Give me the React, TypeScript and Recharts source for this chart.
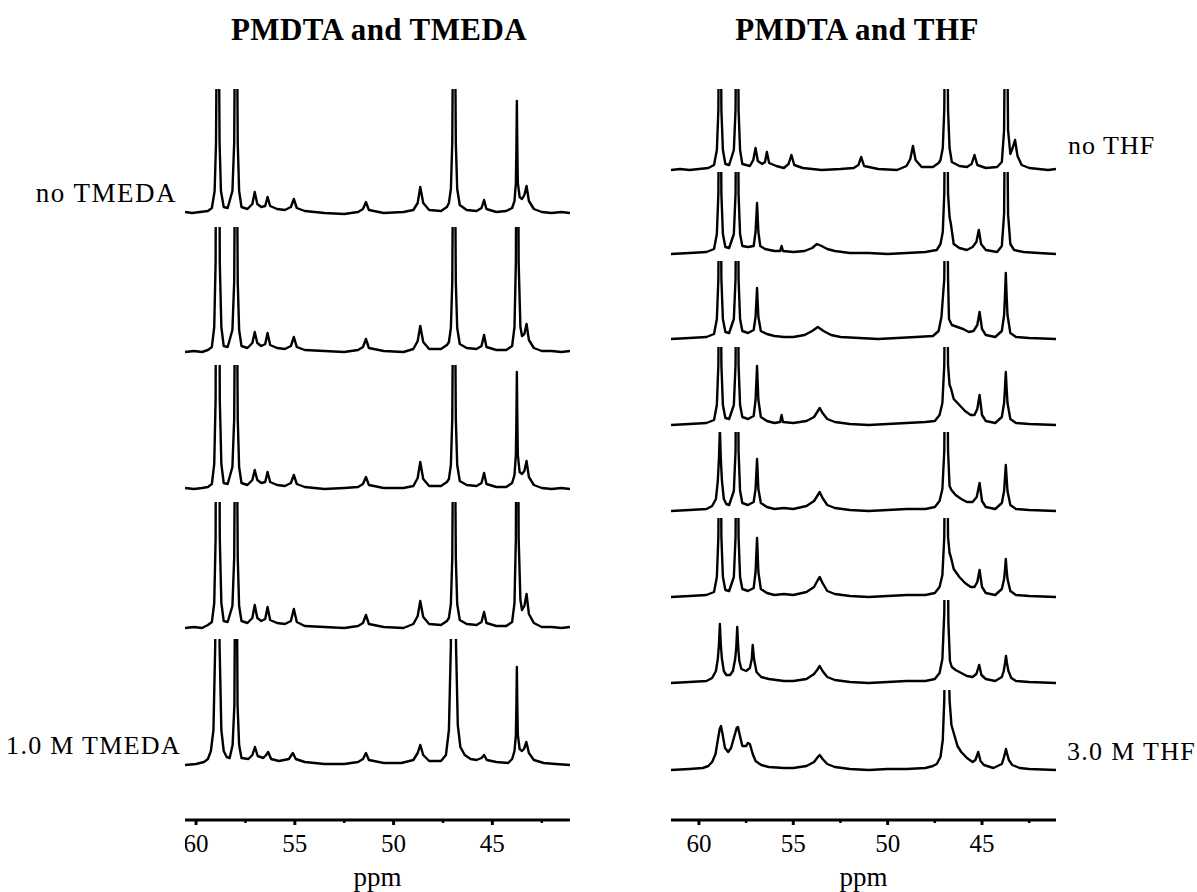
import React from "react";
import { LineChart, Line, XAxis, YAxis, Label } from "recharts";

type Pt = [number, number];

const ppmTicks = [60, 57.5, 55, 52.5, 50, 47.5, 45, 42.5];
const tickLabels = [60, 55, 50, 45];

const titles = ["PMDTA and TMEDA", "PMDTA and THF"];
const tmedaLabels = ["no TMEDA", "1.0 M TMEDA"];
const thfLabels = ["no THF", "3.0 M THF"];

// [ppm, intensity]; intensity is height above the trace's own baseline

const tmeda0: Pt[] = [
  [60.56, 1], [60.2, 0], [59.8, 1], [59.4, 2],
  [59.2, 5], [59.06, 22], [58.99, 70], [58.94, 220], [58.9, 500], [58.86, 220], [58.81, 70], [58.74, 22], [58.6, 6],
  [58.4, 5], [58.16, 22], [58.07, 70], [58.02, 220], [57.98, 500], [57.94, 220], [57.89, 70], [57.82, 22], [57.7, 6],
  [57.4, 4], [57.15, 9], [57.03, 21], [56.9, 9], [56.7, 6], [56.5, 7], [56.38, 16], [56.25, 7], [55.9, 4], [55.5, 3],
  [55.2, 6], [55.05, 14], [54.9, 5], [54.5, 2], [53.5, 0], [52.5, -1], [51.8, 1], [51.55, 4], [51.4, 11], [51.25, 3],
  [50.5, 0], [49.5, 1], [49.0, 3], [48.78, 10], [48.65, 26], [48.5, 10], [48.2, 3], [47.6, 2], [47.3, 6],
  [47.2, 10], [47.1, 24], [47.03, 70], [46.98, 220], [46.94, 500], [46.9, 220], [46.85, 70], [46.78, 24], [46.65, 8],
  [46.3, 3], [45.8, 2], [45.55, 5], [45.42, 13], [45.3, 4], [44.8, 1], [44.3, 2], [44.0, 5],
  [43.88, 12], [43.81, 30], [43.78, 70], [43.76, 112], [43.74, 70], [43.71, 30], [43.62, 16],
  [43.5, 14], [43.38, 18], [43.27, 27], [43.15, 12], [42.9, 4], [42.5, 1], [42.0, 0], [41.5, 1], [41.07, 0],
];

const tmeda1: Pt[] = [
  [60.56, 0], [60.1, 1], [59.7, 0], [59.4, 2],
  [59.2, 5], [59.08, 25], [59.01, 90], [58.97, 400], [58.9, 500], [58.85, 400], [58.8, 90], [58.72, 25], [58.6, 6],
  [58.4, 5], [58.16, 22], [58.07, 70], [58.02, 220], [57.98, 500], [57.94, 220], [57.89, 70], [57.82, 22], [57.7, 6],
  [57.4, 4], [57.15, 9], [57.03, 20], [56.9, 9], [56.7, 6], [56.5, 8], [56.38, 19], [56.25, 7], [55.9, 4], [55.5, 3],
  [55.2, 6], [55.05, 15], [54.9, 5], [54.5, 2], [53.5, 1], [52.5, 0], [51.8, 2], [51.55, 5], [51.4, 13], [51.25, 4],
  [50.5, 1], [49.5, 0], [49.0, 3], [48.78, 11], [48.65, 26], [48.5, 10], [48.2, 3], [47.6, 3], [47.3, 7],
  [47.2, 10], [47.1, 24], [47.03, 70], [46.98, 220], [46.94, 500], [46.9, 220], [46.85, 70], [46.78, 24], [46.65, 8],
  [46.3, 4], [45.8, 3], [45.55, 6], [45.42, 17], [45.3, 5], [44.8, 2], [44.3, 2], [44.0, 6],
  [43.88, 25], [43.81, 90], [43.77, 300], [43.74, 500], [43.71, 300], [43.67, 90], [43.58, 25],
  [43.5, 16], [43.38, 18], [43.27, 28], [43.15, 12], [42.9, 4], [42.5, 1], [42.0, 1], [41.5, 0], [41.07, 1],
];

const tmeda2: Pt[] = [
  [60.56, 1], [60.1, 0], [59.7, 1], [59.4, 2],
  [59.2, 5], [59.08, 25], [59.01, 90], [58.97, 400], [58.9, 500], [58.85, 400], [58.8, 90], [58.72, 25], [58.6, 6],
  [58.4, 5], [58.16, 22], [58.07, 70], [58.02, 220], [57.98, 500], [57.94, 220], [57.89, 70], [57.82, 22], [57.7, 6],
  [57.4, 4], [57.15, 9], [57.03, 19], [56.9, 9], [56.7, 6], [56.5, 7], [56.38, 17], [56.25, 7], [55.9, 4], [55.5, 3],
  [55.2, 6], [55.05, 14], [54.9, 5], [54.5, 2], [53.5, 0], [52.5, 1], [51.8, 2], [51.55, 5], [51.4, 12], [51.25, 4],
  [50.5, 1], [49.5, 1], [49.0, 3], [48.78, 11], [48.65, 27], [48.5, 10], [48.2, 3], [47.6, 3], [47.3, 7],
  [47.2, 10], [47.1, 24], [47.03, 70], [46.98, 220], [46.94, 500], [46.9, 220], [46.85, 70], [46.78, 24], [46.65, 8],
  [46.3, 4], [45.8, 3], [45.55, 6], [45.42, 16], [45.3, 5], [44.8, 2], [44.3, 2], [44.0, 6],
  [43.88, 14], [43.81, 34], [43.78, 75], [43.76, 117], [43.74, 75], [43.71, 34], [43.62, 17],
  [43.5, 15], [43.38, 18], [43.27, 28], [43.15, 12], [42.9, 4], [42.5, 1], [42.0, 0], [41.5, 1], [41.07, 0],
];

const tmeda3: Pt[] = [
  [60.56, 0], [60.1, 1], [59.7, 0], [59.4, 3],
  [59.2, 6], [59.08, 25], [59.01, 90], [58.97, 400], [58.9, 500], [58.85, 400], [58.8, 90], [58.72, 25], [58.6, 7],
  [58.4, 6], [58.16, 22], [58.07, 70], [58.02, 220], [57.98, 500], [57.94, 220], [57.89, 70], [57.82, 22], [57.7, 7],
  [57.4, 5], [57.15, 10], [57.03, 23], [56.9, 10], [56.7, 7], [56.5, 9], [56.38, 21], [56.25, 8], [55.9, 5], [55.5, 4],
  [55.2, 7], [55.05, 19], [54.9, 6], [54.5, 2], [53.5, 1], [52.5, 0], [51.8, 2], [51.55, 5], [51.4, 13], [51.25, 4],
  [50.5, 1], [49.5, 0], [49.0, 4], [48.78, 12], [48.65, 27], [48.5, 11], [48.2, 4], [47.6, 3], [47.3, 7],
  [47.2, 10], [47.1, 24], [47.03, 70], [46.98, 220], [46.94, 500], [46.9, 220], [46.85, 70], [46.78, 24], [46.65, 8],
  [46.3, 4], [45.8, 3], [45.55, 6], [45.42, 16], [45.3, 5], [44.8, 2], [44.3, 2], [44.0, 6],
  [43.88, 25], [43.81, 90], [43.77, 300], [43.74, 500], [43.71, 300], [43.67, 90], [43.58, 28],
  [43.5, 18], [43.38, 22], [43.27, 34], [43.15, 14], [42.9, 5], [42.5, 1], [42.0, 1], [41.5, 0], [41.07, 1],
];

const tmeda4: Pt[] = [
  [60.56, 0], [60.0, 1], [59.6, 3], [59.4, 6],
  [59.25, 14], [59.12, 35], [59.03, 120], [58.96, 500], [58.88, 500], [58.81, 120], [58.72, 35], [58.6, 14], [58.45, 8],
  [58.3, 7], [58.15, 20], [58.06, 60], [58.02, 200], [57.98, 500], [57.94, 200], [57.9, 60], [57.82, 20], [57.7, 7],
  [57.35, 6], [57.15, 10], [57.02, 18], [56.88, 9], [56.6, 7], [56.45, 10], [56.35, 13], [56.2, 6], [55.8, 4], [55.3, 6],
  [55.1, 12], [54.95, 6], [54.5, 3], [53.5, 1], [52.5, 1], [51.8, 3], [51.55, 6], [51.4, 12], [51.25, 5], [50.5, 2],
  [49.6, 2], [49.0, 5], [48.78, 12], [48.65, 20], [48.5, 10], [48.2, 4], [47.6, 4], [47.35, 10],
  [47.2, 35], [47.1, 120], [47.03, 500], [46.92, 500], [46.84, 120], [46.75, 40], [46.62, 18], [46.4, 10],
  [46.1, 6], [45.8, 5], [45.55, 7], [45.42, 10], [45.28, 5], [44.8, 3], [44.2, 2], [44.0, 6],
  [43.88, 14], [43.81, 30], [43.78, 64], [43.76, 98], [43.74, 64], [43.71, 30], [43.62, 16],
  [43.5, 14], [43.4, 16], [43.28, 23], [43.15, 12], [42.9, 5], [42.4, 2], [41.8, 1], [41.07, 0],
];

const thf0: Pt[] = [
  [61.48, 0], [61.0, 1], [60.5, 0], [60.0, 1], [59.5, 2],
  [59.2, 5], [59.05, 20], [58.97, 60], [58.93, 180], [58.89, 400], [58.85, 180], [58.81, 60], [58.73, 20], [58.6, 6],
  [58.4, 5], [58.15, 20], [58.06, 60], [58.02, 180], [57.98, 400], [57.94, 180], [57.9, 60], [57.82, 20], [57.7, 6],
  [57.3, 4], [57.12, 10], [57.0, 22], [56.88, 9], [56.65, 6], [56.5, 8], [56.4, 18], [56.28, 7], [55.9, 4], [55.5, 2],
  [55.25, 6], [55.1, 15], [54.95, 5], [54.5, 2], [53.5, 0], [52.5, 1], [51.8, 2], [51.55, 5], [51.4, 13], [51.25, 4],
  [50.5, 1], [49.5, 0], [49.0, 4], [48.8, 11], [48.66, 24], [48.52, 10], [48.2, 3], [47.6, 3], [47.3, 7],
  [47.2, 10], [47.08, 22], [47.0, 60], [46.95, 180], [46.9, 400], [46.86, 180], [46.8, 60], [46.72, 22], [46.6, 8],
  [46.2, 4], [45.8, 3], [45.55, 6], [45.4, 15], [45.25, 5], [44.8, 2], [44.2, 3], [43.95, 8],
  [43.83, 40], [43.77, 180], [43.73, 400], [43.69, 180], [43.62, 40], [43.5, 16], [43.38, 22], [43.25, 30],
  [43.12, 14], [42.9, 5], [42.5, 2], [42.0, 1], [41.5, 0], [41.08, 1],
];

const thf1: Pt[] = [
  [61.48, 0], [60.5, 1], [59.6, 2],
  [59.2, 5], [59.05, 20], [58.97, 60], [58.93, 180], [58.89, 400], [58.85, 180], [58.81, 60], [58.73, 20], [58.6, 7],
  [58.4, 6], [58.15, 20], [58.06, 60], [58.02, 180], [57.98, 400], [57.94, 180], [57.9, 60], [57.82, 20], [57.7, 8],
  [57.4, 7], [57.1, 8], [57.0, 22], [56.92, 51], [56.85, 22], [56.75, 8], [56.5, 5], [56.0, 3], [55.7, 3], [55.62, 8],
  [55.55, 3], [55.0, 2], [54.4, 3], [54.0, 6], [53.75, 10], [53.5, 8], [53.2, 5], [52.8, 3], [52.0, 1], [51.0, 1],
  [50.0, 0], [49.0, 1], [48.0, 2], [47.4, 4],
  [47.2, 10], [47.08, 22], [47.0, 60], [46.95, 180], [46.9, 400], [46.86, 180], [46.8, 60], [46.72, 37], [46.65, 30],
  [46.5, 10], [46.2, 6], [45.8, 4], [45.5, 7], [45.3, 12], [45.17, 24], [45.05, 10], [44.8, 4], [44.2, 2], [43.95, 8],
  [43.83, 40], [43.77, 180], [43.73, 400], [43.69, 180], [43.62, 40], [43.5, 10], [43.3, 4], [42.8, 2], [42.0, 1],
  [41.08, 0],
];

const thf2: Pt[] = [
  [61.48, 0], [60.5, 1], [59.6, 2],
  [59.2, 5], [59.05, 20], [58.97, 60], [58.93, 180], [58.89, 400], [58.85, 180], [58.81, 60], [58.73, 20], [58.6, 7],
  [58.4, 6], [58.15, 20], [58.06, 60], [58.02, 180], [57.98, 400], [57.94, 180], [57.9, 60], [57.82, 20], [57.7, 8],
  [57.4, 6], [57.1, 9], [57.0, 22], [56.92, 51], [56.85, 22], [56.72, 8], [56.4, 5], [56.0, 3], [55.5, 2], [55.0, 2],
  [54.4, 4], [54.0, 8], [53.7, 12], [53.4, 8], [53.0, 4], [52.5, 2], [51.5, 1], [50.5, 0], [49.5, 1], [48.5, 2],
  [47.6, 3], [47.3, 8],
  [47.15, 22], [47.0, 60], [46.95, 180], [46.9, 400], [46.86, 180], [46.8, 60], [46.75, 20], [46.6, 14], [46.3, 12],
  [46.0, 10], [45.7, 7], [45.45, 8], [45.25, 14], [45.13, 27], [45.0, 10], [44.8, 4], [44.3, 2], [43.95, 8],
  [43.83, 24], [43.78, 45], [43.74, 66], [43.7, 45], [43.65, 24], [43.5, 6], [43.2, 2], [42.5, 1], [41.08, 0],
];

const thf3: Pt[] = [
  [61.48, 0], [60.5, 1], [59.6, 2],
  [59.2, 5], [59.05, 20], [58.97, 60], [58.93, 180], [58.89, 400], [58.85, 180], [58.81, 60], [58.73, 20], [58.6, 7],
  [58.4, 6], [58.15, 20], [58.06, 60], [58.02, 180], [57.98, 400], [57.94, 180], [57.9, 60], [57.82, 20], [57.7, 8],
  [57.4, 6], [57.1, 9], [57.0, 25], [56.92, 59], [56.85, 25], [56.72, 8], [56.4, 4], [56.0, 2], [55.7, 3], [55.62, 10],
  [55.55, 3], [55.0, 2], [54.3, 4], [53.9, 8], [53.7, 14], [53.6, 17], [53.45, 12], [53.2, 6], [52.8, 3], [52.0, 1],
  [51.0, 0], [50.0, 1], [49.0, 2], [48.0, 3], [47.5, 4], [47.25, 10],
  [47.1, 22], [47.0, 60], [46.95, 180], [46.9, 400], [46.86, 180], [46.8, 60], [46.72, 40], [46.65, 37], [46.5, 26],
  [46.2, 20], [45.9, 14], [45.6, 10], [45.4, 10], [45.25, 16], [45.13, 30], [45.0, 10], [44.8, 4], [44.3, 2], [43.95, 8],
  [43.83, 22], [43.78, 38], [43.74, 53], [43.7, 38], [43.65, 22], [43.5, 6], [43.2, 2], [42.5, 1], [41.08, 0],
];

const thf4: Pt[] = [
  [61.48, 0], [60.5, 1], [59.6, 2],
  [59.3, 5], [59.1, 12], [59.0, 30], [58.94, 52], [58.89, 82], [58.84, 52], [58.78, 30], [58.68, 12], [58.55, 7],
  [58.4, 6], [58.15, 20], [58.06, 60], [58.02, 180], [57.98, 400], [57.94, 180], [57.9, 60], [57.82, 20], [57.7, 8],
  [57.4, 6], [57.1, 9], [57.0, 22], [56.92, 52], [56.85, 22], [56.72, 8], [56.4, 4], [56.0, 2], [55.5, 3], [55.0, 2],
  [54.3, 5], [53.9, 10], [53.7, 16], [53.6, 19], [53.45, 13], [53.2, 6], [52.8, 3], [52.0, 1], [51.0, 0], [50.0, 1],
  [49.0, 2], [48.0, 2], [47.5, 4], [47.25, 10],
  [47.1, 22], [47.0, 60], [46.95, 180], [46.9, 400], [46.86, 180], [46.8, 60], [46.72, 25], [46.62, 21], [46.4, 16],
  [46.1, 12], [45.8, 9], [45.5, 9], [45.28, 14], [45.13, 28], [45.0, 10], [44.8, 4], [44.3, 2], [43.95, 8],
  [43.83, 20], [43.78, 34], [43.74, 46], [43.7, 34], [43.65, 20], [43.5, 6], [43.2, 2], [42.5, 1], [41.08, 0],
];

const thf5: Pt[] = [
  [61.48, 0], [60.5, 1], [59.6, 2],
  [59.2, 5], [59.05, 20], [58.97, 60], [58.93, 180], [58.89, 400], [58.85, 180], [58.81, 60], [58.73, 20], [58.6, 7],
  [58.4, 6], [58.15, 20], [58.06, 60], [58.02, 180], [57.98, 400], [57.94, 180], [57.9, 60], [57.82, 20], [57.7, 8],
  [57.4, 6], [57.1, 9], [57.0, 25], [56.92, 59], [56.85, 25], [56.72, 8], [56.4, 4], [56.0, 2], [55.5, 3], [55.0, 2],
  [54.3, 5], [53.9, 10], [53.7, 17], [53.6, 20], [53.45, 14], [53.2, 6], [52.8, 3], [52.0, 1], [51.0, 0], [50.0, 1],
  [49.0, 2], [48.0, 2], [47.5, 4], [47.25, 10],
  [47.1, 22], [47.0, 60], [46.95, 180], [46.9, 400], [46.86, 180], [46.8, 60], [46.72, 44], [46.65, 40], [46.5, 28],
  [46.2, 20], [45.9, 14], [45.6, 10], [45.4, 10], [45.25, 15], [45.13, 27], [45.0, 10], [44.8, 4], [44.3, 2], [43.95, 8],
  [43.83, 18], [43.78, 28], [43.74, 38], [43.7, 28], [43.65, 18], [43.5, 6], [43.2, 2], [42.5, 1], [41.08, 0],
];

const thf6: Pt[] = [
  [61.48, 0], [60.5, 1], [59.6, 2],
  [59.3, 5], [59.1, 12], [59.0, 24], [58.94, 38], [58.89, 59], [58.84, 38], [58.78, 24], [58.68, 12], [58.55, 8],
  [58.35, 8], [58.2, 12], [58.08, 24], [58.02, 36], [57.97, 56], [57.92, 36], [57.86, 22], [57.75, 14], [57.5, 12],
  [57.3, 15], [57.2, 24], [57.15, 38], [57.08, 24], [56.95, 11], [56.7, 6], [56.3, 4], [55.5, 2], [55.0, 2],
  [54.3, 4], [53.9, 9], [53.7, 14], [53.6, 17], [53.45, 12], [53.2, 6], [52.8, 3], [52.0, 1], [51.0, 0], [50.0, 1],
  [49.0, 2], [48.0, 2], [47.5, 4], [47.25, 10],
  [47.1, 24], [47.0, 70], [46.95, 180], [46.9, 400], [46.85, 180], [46.78, 60], [46.7, 22], [46.6, 16], [46.4, 13],
  [46.1, 10], [45.8, 7], [45.5, 6], [45.3, 9], [45.15, 18], [45.03, 8], [44.8, 4], [44.3, 2], [43.95, 6],
  [43.85, 12], [43.78, 20], [43.73, 27], [43.68, 20], [43.6, 12], [43.45, 5], [43.2, 2], [42.5, 1], [41.08, 0],
];

const thf7: Pt[] = [
  [61.48, 0], [60.5, 1], [59.8, 2], [59.5, 4],
  [59.3, 8], [59.12, 16], [59.0, 30], [58.9, 41], [58.83, 44], [58.75, 36], [58.62, 22], [58.45, 18], [58.3, 22],
  [58.12, 34], [58.0, 42], [57.93, 43], [57.85, 36], [57.7, 24], [57.5, 24], [57.4, 27], [57.3, 26], [57.15, 16],
  [57.0, 9], [56.7, 5], [56.3, 3], [55.5, 2], [55.0, 2], [54.3, 4], [53.9, 8], [53.7, 13], [53.6, 15], [53.45, 11],
  [53.2, 6], [52.8, 3], [52.0, 1], [51.0, 0], [50.0, 1], [49.0, 1], [48.0, 2], [47.6, 4], [47.4, 6],
  [47.2, 13], [47.08, 30], [47.0, 70], [46.95, 150], [46.88, 300], [46.8, 150], [46.72, 70], [46.62, 45], [46.5, 37],
  [46.3, 24], [46.1, 18], [45.8, 12], [45.5, 8], [45.35, 10], [45.2, 18], [45.08, 9], [44.9, 5], [44.4, 2], [43.95, 6],
  [43.85, 12], [43.78, 17], [43.73, 21], [43.68, 17], [43.58, 10], [43.4, 5], [43.0, 2], [42.5, 1], [41.08, 0],
];

const tmedaTraces = [tmeda0, tmeda1, tmeda2, tmeda3, tmeda4];
const thfTraces = [thf0, thf1, thf2, thf3, thf4, thf5, thf6, thf7];

// layout (pixels)
const SERIF = '"Liberation Serif", "Times New Roman", serif';
const PLOT_W = 385;
const leftDomain: [number, number] = [41.07, 60.56];
const rightDomain: [number, number] = [41.08, 61.48];
const leftBase = [213, 352, 489, 628, 765];
const leftClip = [124, 125, 124, 126, 126];
const rightBase = [170, 254, 339, 425, 511, 597, 683, 770];
const rightClip = [81, 82, 78, 78, 79, 79, 83, 80];

function AxisTick(props: any) {
  const { x, y, payload } = props;
  const major = tickLabels.includes(payload.value);
  return (
    <g>
      <line x1={x} x2={x} y1={y} y2={y + (major ? 5 : 3)} stroke="#000" strokeWidth={major ? 3 : 2.5} />
      {major && (
        <text x={x} y={y + 32} textAnchor="middle" fontFamily={SERIF} fontSize={25} fill="#000">
          {payload.value}
        </text>
      )}
    </g>
  );
}

function PpmLabel(props: any) {
  const vb = props.viewBox || { x: 0, y: 0, width: PLOT_W };
  return (
    <text x={vb.x + vb.width / 2} y={vb.y + 66} textAnchor="middle" fontFamily={SERIF} fontSize={27} fill="#000">
      ppm
    </text>
  );
}

interface TraceProps {
  points: Pt[];
  left: number;
  baseline: number;
  clip: number;
  pad: number;
  domain: [number, number];
  axis?: boolean;
}

function Trace({ points, left, baseline, clip, pad, domain, axis }: TraceProps) {
  const data = points.map(([ppm, v]) => ({ ppm, v }));
  const axisH = axis ? 75 : 0;
  return (
    <div style={{ position: "absolute", left, top: baseline - clip }}>
      <LineChart
        width={PLOT_W}
        height={clip + pad + axisH}
        data={data}
        margin={{ top: 0, right: 0, bottom: 0, left: 0 }}
      >
        <XAxis
          dataKey="ppm"
          type="number"
          domain={domain}
          reversed
          allowDataOverflow
          hide={!axis}
          height={axis ? axisH : 0}
          ticks={ppmTicks}
          interval={0}
          tickSize={0}
          tickMargin={0}
          tickLine={false}
          tick={<AxisTick />}
          axisLine={{ stroke: "#000", strokeWidth: 3 }}
        >
          {axis && <Label content={PpmLabel} />}
        </XAxis>
        <YAxis hide domain={[-pad, clip]} allowDataOverflow />
        <Line
          dataKey="v"
          type="linear"
          stroke="#000"
          strokeWidth={2.4}
          strokeLinejoin="round"
          dot={false}
          isAnimationActive={false}
        />
      </LineChart>
    </div>
  );
}

const textBase: React.CSSProperties = {
  position: "absolute",
  fontFamily: SERIF,
  color: "#000",
  whiteSpace: "nowrap",
};

export default function App() {
  return (
    <div style={{ position: "absolute", left: 0, top: 0, width: 1197, height: 892, background: "#fff" }}>
      <div style={{ ...textBase, left: 179, width: 400, top: 12, textAlign: "center", fontSize: 31, fontWeight: "bold", lineHeight: "36px", letterSpacing: 0.4 }}>
        {titles[0]}
      </div>
      <div style={{ ...textBase, left: 657, width: 400, top: 12, textAlign: "center", fontSize: 31, fontWeight: "bold", lineHeight: "36px", letterSpacing: 0.4 }}>
        {titles[1]}
      </div>

      {tmedaTraces.map((pts, i) => (
        <Trace
          key={"l" + i}
          points={pts}
          left={185}
          baseline={leftBase[i]}
          clip={leftClip[i]}
          pad={i === tmedaTraces.length - 1 ? 55 : 12}
          domain={leftDomain}
          axis={i === tmedaTraces.length - 1}
        />
      ))}
      {thfTraces.map((pts, i) => (
        <Trace
          key={"r" + i}
          points={pts}
          left={671}
          baseline={rightBase[i]}
          clip={rightClip[i]}
          pad={i === thfTraces.length - 1 ? 50 : 12}
          domain={rightDomain}
          axis={i === thfTraces.length - 1}
        />
      ))}

      <div style={{ ...textBase, left: 0, width: 177, top: 178, textAlign: "right", fontSize: 27, lineHeight: "30px", letterSpacing: 1.5 }}>
        {tmedaLabels[0]}
      </div>
      <div style={{ ...textBase, left: 0, width: 181, top: 731, textAlign: "right", fontSize: 26, lineHeight: "30px", letterSpacing: 1.3 }}>
        {tmedaLabels[1]}
      </div>
      <div style={{ ...textBase, left: 1068, top: 131, fontSize: 26, lineHeight: "30px", letterSpacing: 1 }}>
        {thfLabels[0]}
      </div>
      <div style={{ ...textBase, left: 1067, top: 737, fontSize: 26, lineHeight: "30px", letterSpacing: 1.3 }}>
        {thfLabels[1]}
      </div>
    </div>
  );
}
